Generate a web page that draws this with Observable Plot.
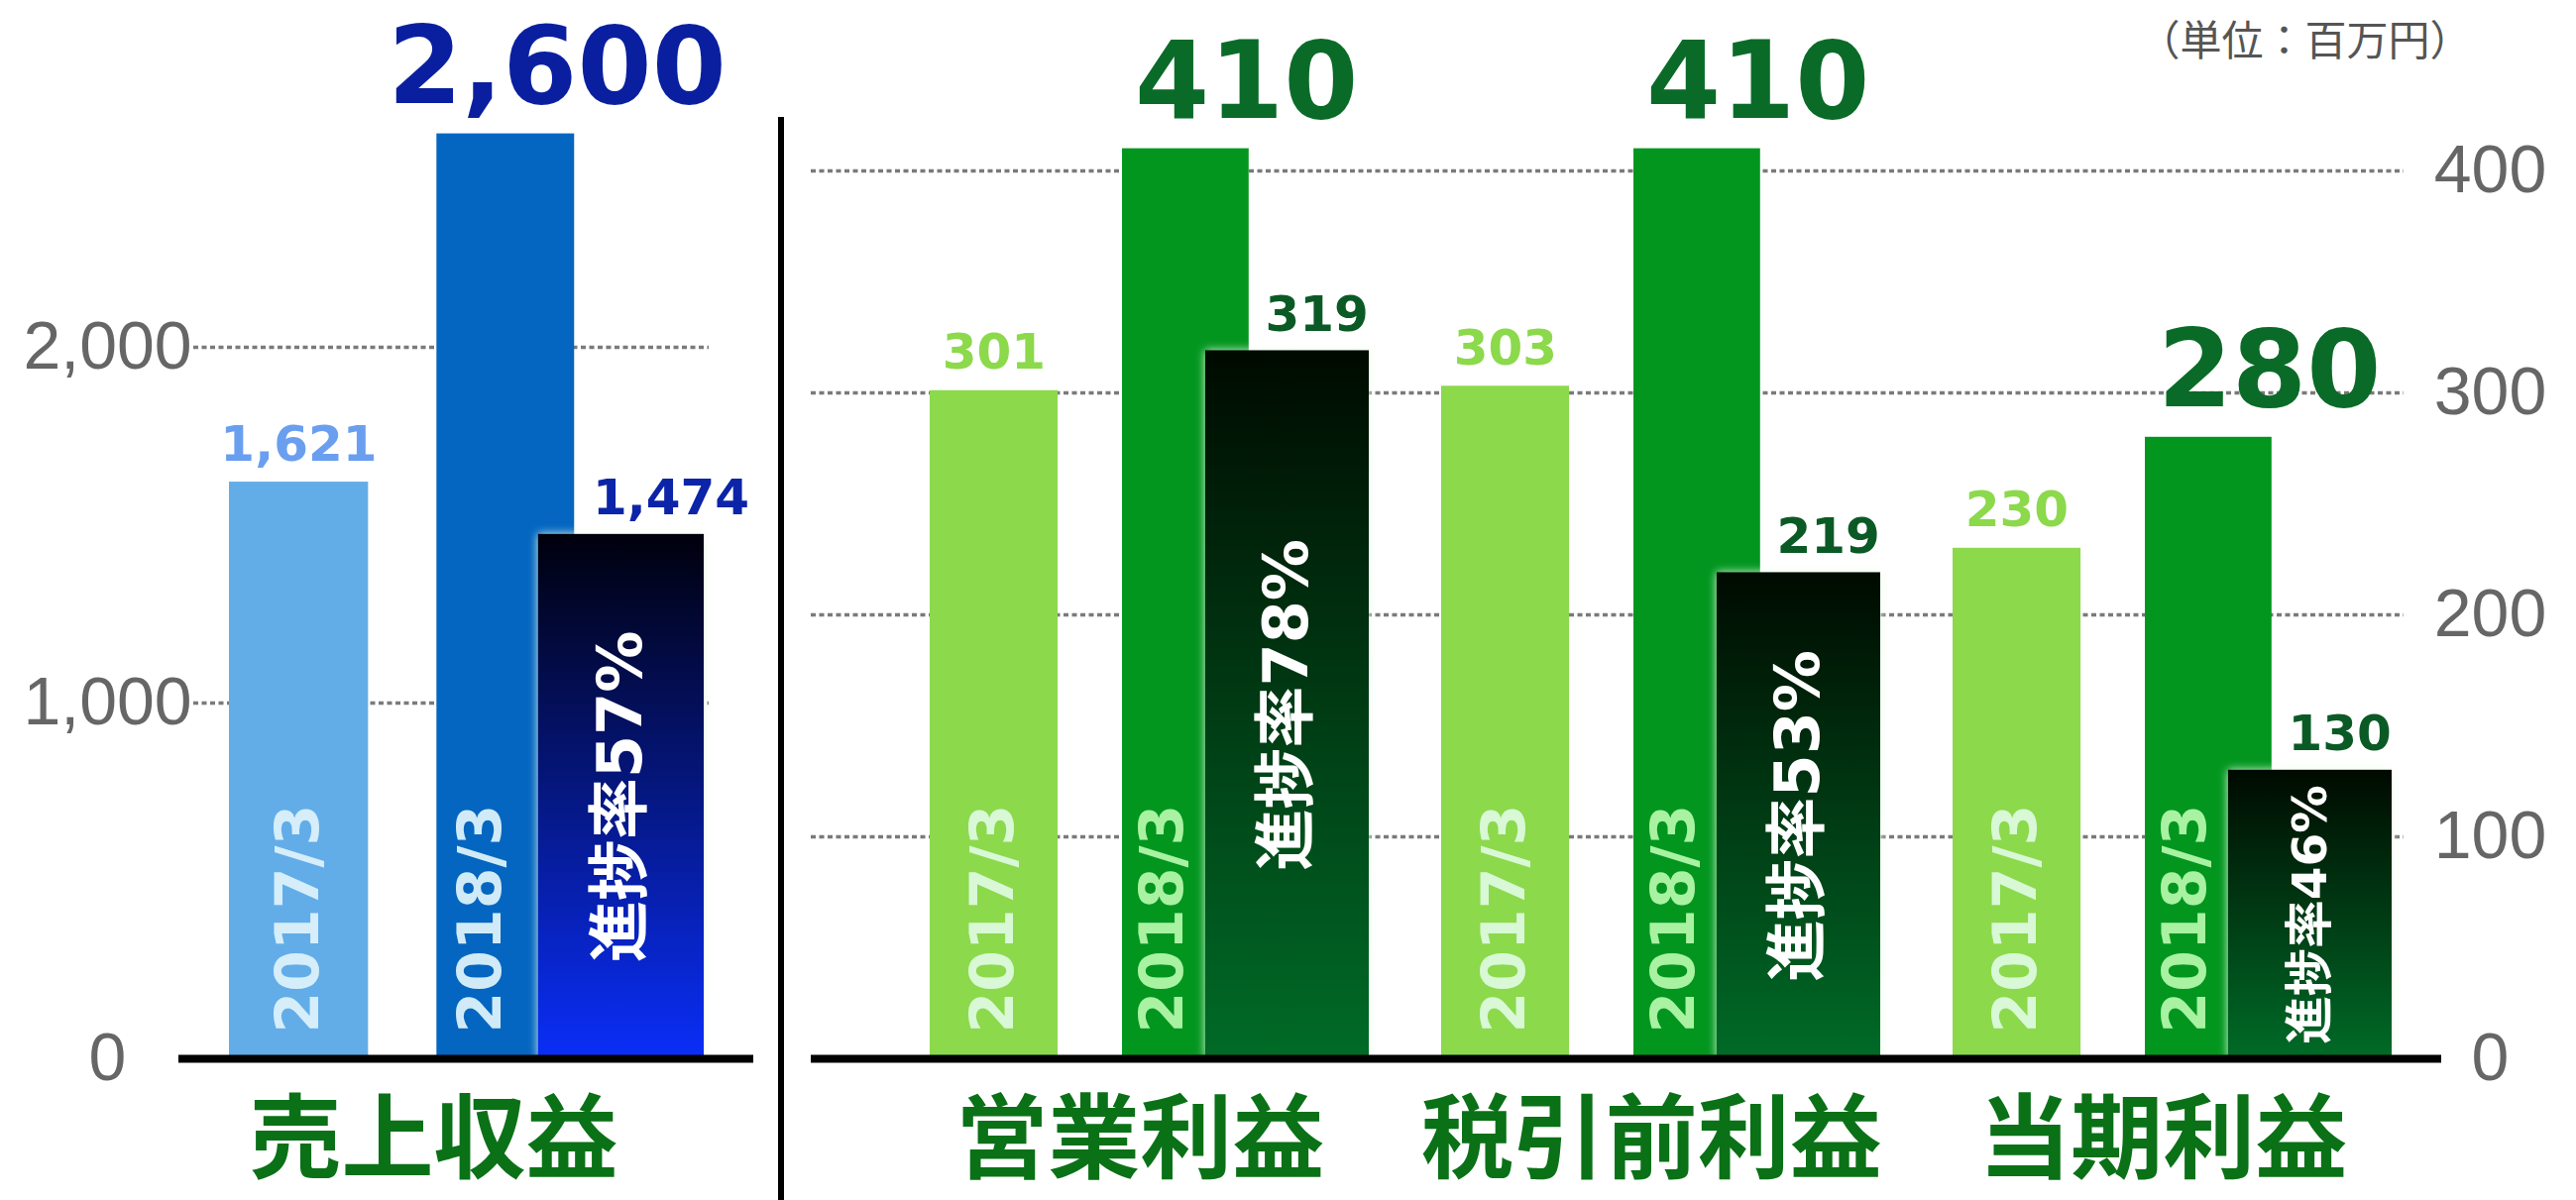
<!DOCTYPE html>
<html><head><meta charset="utf-8">
<script src="https://cdn.jsdelivr.net/npm/d3@7"></script>
<script src="https://cdn.jsdelivr.net/npm/@observablehq/plot@0.6"></script>
<style>
body{margin:0;background:#fff;}
#wrap{position:relative;width:2599px;height:1211px;display:flex;overflow:hidden;}
#divider{position:absolute;left:785px;top:118px;width:6px;height:1093px;background:#000;}
svg{overflow:visible;}
</style></head>
<body><div id="wrap"><div id="left"></div><div id="right"></div><div id="divider"></div></div>
<script>
// ---- data ----
const categories = ["売上収益", "営業利益", "税引前利益", "当期利益"];
const prevValues = [1621, 301, 303, 230];       // 2017/3 実績
const planValues = [2600, 410, 410, 280];       // 2018/3 予想
const progressValues = [1474, 319, 219, 130];   // 進捗
const progressRates = [57, 78, 53, 46];         // 進捗率 %
const periodLabels = ["2017/3", "2018/3"];
const progressPrefix = "進捗率";
const leftTicks = [0, 1000, 2000];
const rightTicks = [0, 100, 200, 300, 400];
const unitLabel = "（単位：百万円）";

const rows = categories.map((c, i) => ({cat: c, prev: prevValues[i], plan: planValues[i], prog: progressValues[i], rate: progressRates[i]}));
const fmt = d3.format(",");
const NUM = "DejaVu Sans, Verdana, sans-serif";
const AX = "Liberation Sans, Arial, Helvetica, sans-serif";
const JP = "Noto Sans CJK JP, sans-serif";
const MIX = "DejaVu Sans, Noto Sans CJK JP, sans-serif";

function panel(data, cfg) {
  const G = cfg.bw;
  const ins = (f0, f1) => ({insetLeft: f0 * G, insetRight: (1 - f1) * G});
  const dxOf = f => (f - 0.5) * G;
  const base = 1068;
  const ppu = (base - cfg.mt) / cfg.ymax;
  const marks = [
    Plot.ruleY(cfg.ticks.filter(t => t > 0), {stroke: "#7a7a7a", strokeWidth: 3.5, strokeDasharray: "5,3.5", insetLeft: cfg.gl, insetRight: cfg.gr}),
    Plot.text(cfg.ticks, {y: d => d, text: d => fmt(d), frameAnchor: cfg.tickSide, dx: cfg.tickDx, textAnchor: "middle", lineAnchor: "middle", fontSize: 68, fill: "#666", fontFamily: AX}),
    Plot.barY(data, {x: "cat", y: "prev", fill: cfg.c1, ...ins(0, 0.293)}),
    Plot.barY(data, {x: "cat", y: "plan", fill: cfg.c2, ...ins(0.437, 0.727)}),
    Plot.text(data, {x: "cat", y: () => 0, text: () => periodLabels[0], rotate: -90, textAnchor: "start", dx: dxOf(0.146), dy: -26, fontSize: 60, fontWeight: "bold", fill: cfg.y1c, fontFamily: NUM}),
    Plot.text(data, {x: "cat", y: () => 0, text: () => periodLabels[1], rotate: -90, textAnchor: "start", dx: dxOf(0.53), dy: -26, fontSize: 60, fontWeight: "bold", fill: cfg.y2c, fontFamily: NUM}),
    Plot.barY(data, {x: "cat", y: "prog", fill: `url(#${cfg.grad})`, ...ins(cfg.pf0, 1), ariaDescription: "progress"}),
    Plot.text(data, {x: "cat", y: d => d.prog / 2, text: d => progressPrefix + d.rate + "%", rotate: -90, textAnchor: "middle", dx: dxOf((cfg.pf0 + 1) / 2), fontSize: d => Math.min(62, d.prog * ppu * 0.9 / 5.4), fontWeight: "bold", fill: "white", fontFamily: MIX}),
    Plot.ruleY([0], {stroke: "black", strokeWidth: 8}),
    Plot.text(data, {x: "cat", y: "prev", text: d => fmt(d.prev), dx: dxOf(0.146), dy: -38, fontSize: 50, fontWeight: "bold", fill: cfg.lightLabel, fontFamily: NUM}),
    Plot.text(data, {x: "cat", y: "plan", text: d => fmt(d.plan), dx: dxOf(cfg.planF), dy: -66, fontSize: 108, fontWeight: "bold", fill: cfg.bigLabel, fontFamily: NUM}),
    Plot.text(data, {x: "cat", y: "prog", text: d => fmt(d.prog), dx: dxOf(cfg.progF), dy: -36, fontSize: 50, fontWeight: "bold", fill: cfg.progLabel, fontFamily: NUM}),
    Plot.text(data, {x: "cat", text: "cat", frameAnchor: "bottom", lineAnchor: "middle", dy: 84, dx: dxOf(cfg.catF), fontSize: 93, fontWeight: "bold", fill: "#0a7117", fontFamily: JP})
  ];
  if (cfg.unit) marks.push(Plot.text([unitLabel], {frameAnchor: "top-right", dx: 30, dy: -130, textAnchor: "end", lineAnchor: "middle", fontSize: 42, fill: "#555", fontFamily: JP}));
  const svg = Plot.plot({
    width: cfg.width, height: 1211,
    marginLeft: cfg.ml, marginRight: cfg.mr, marginTop: cfg.mt, marginBottom: 1211 - base,
    x: {type: "band", domain: data.map(d => d.cat), paddingInner: cfg.pi, paddingOuter: cfg.po, align: cfg.align, axis: null},
    y: {domain: [0, cfg.ymax], axis: null},
    style: {background: "white", overflow: "visible"},
    marks
  });
  const defs = d3.select(svg).insert("defs", ":first-child");
  const lg = defs.append("linearGradient").attr("id", cfg.grad).attr("x1", 0).attr("y1", 0).attr("x2", 0).attr("y2", 1);
  lg.append("stop").attr("offset", "0%").attr("stop-color", cfg.gTop);
  lg.append("stop").attr("offset", "100%").attr("stop-color", cfg.gBot);
  d3.select(svg).selectAll('g[aria-description="progress"]').style("filter", "drop-shadow(0 0 5px rgba(235,255,235,0.95))");
  return svg;
}

const leftSvg = panel(rows.slice(0, 1), {
  width: 790, ml: 180, mr: 30, mt: 350, ymax: 2000, ticks: leftTicks,
  pi: 0, po: 0.105, align: 0.5, bw: 479,
  c1: "#62ade8", c2: "#0466c0", grad: "gBlue", gTop: "#00000c", gBot: "#0a2ef8",
  gl: 15, gr: 45, tickSide: "left", tickDx: -72,
  y1c: "#d5eefa", y2c: "#d0ebf7", bigLabel: "#0a1fa0", progLabel: "#0c24a8", lightLabel: "#6a9ff0",
  pf0: 0.651, planF: 0.69, progF: 0.93, catF: 0.43
});
const rightSvg = panel(rows.slice(1), {
  width: 1809, ml: 28, mr: 136, mt: 172, ymax: 400, ticks: rightTicks,
  pi: 0.1412, po: 0.1616, align: 0.707, bw: 444,
  c1: "#8cd94c", c2: "#02961f", grad: "gGreen", gTop: "#000a00", gBot: "#006b27",
  gl: 0, gr: 38, tickSide: "right", tickDx: 49,
  y1c: "#d8f8d6", y2c: "#a8f2a2", bigLabel: "#0a6b28", progLabel: "#0b5a26", lightLabel: "#8cd94c",
  pf0: 0.626, planF: 0.72, progF: 0.88, catF: 0.478, unit: true
});
document.getElementById("left").append(leftSvg);
document.getElementById("right").append(rightSvg);
</script>
</body></html>
